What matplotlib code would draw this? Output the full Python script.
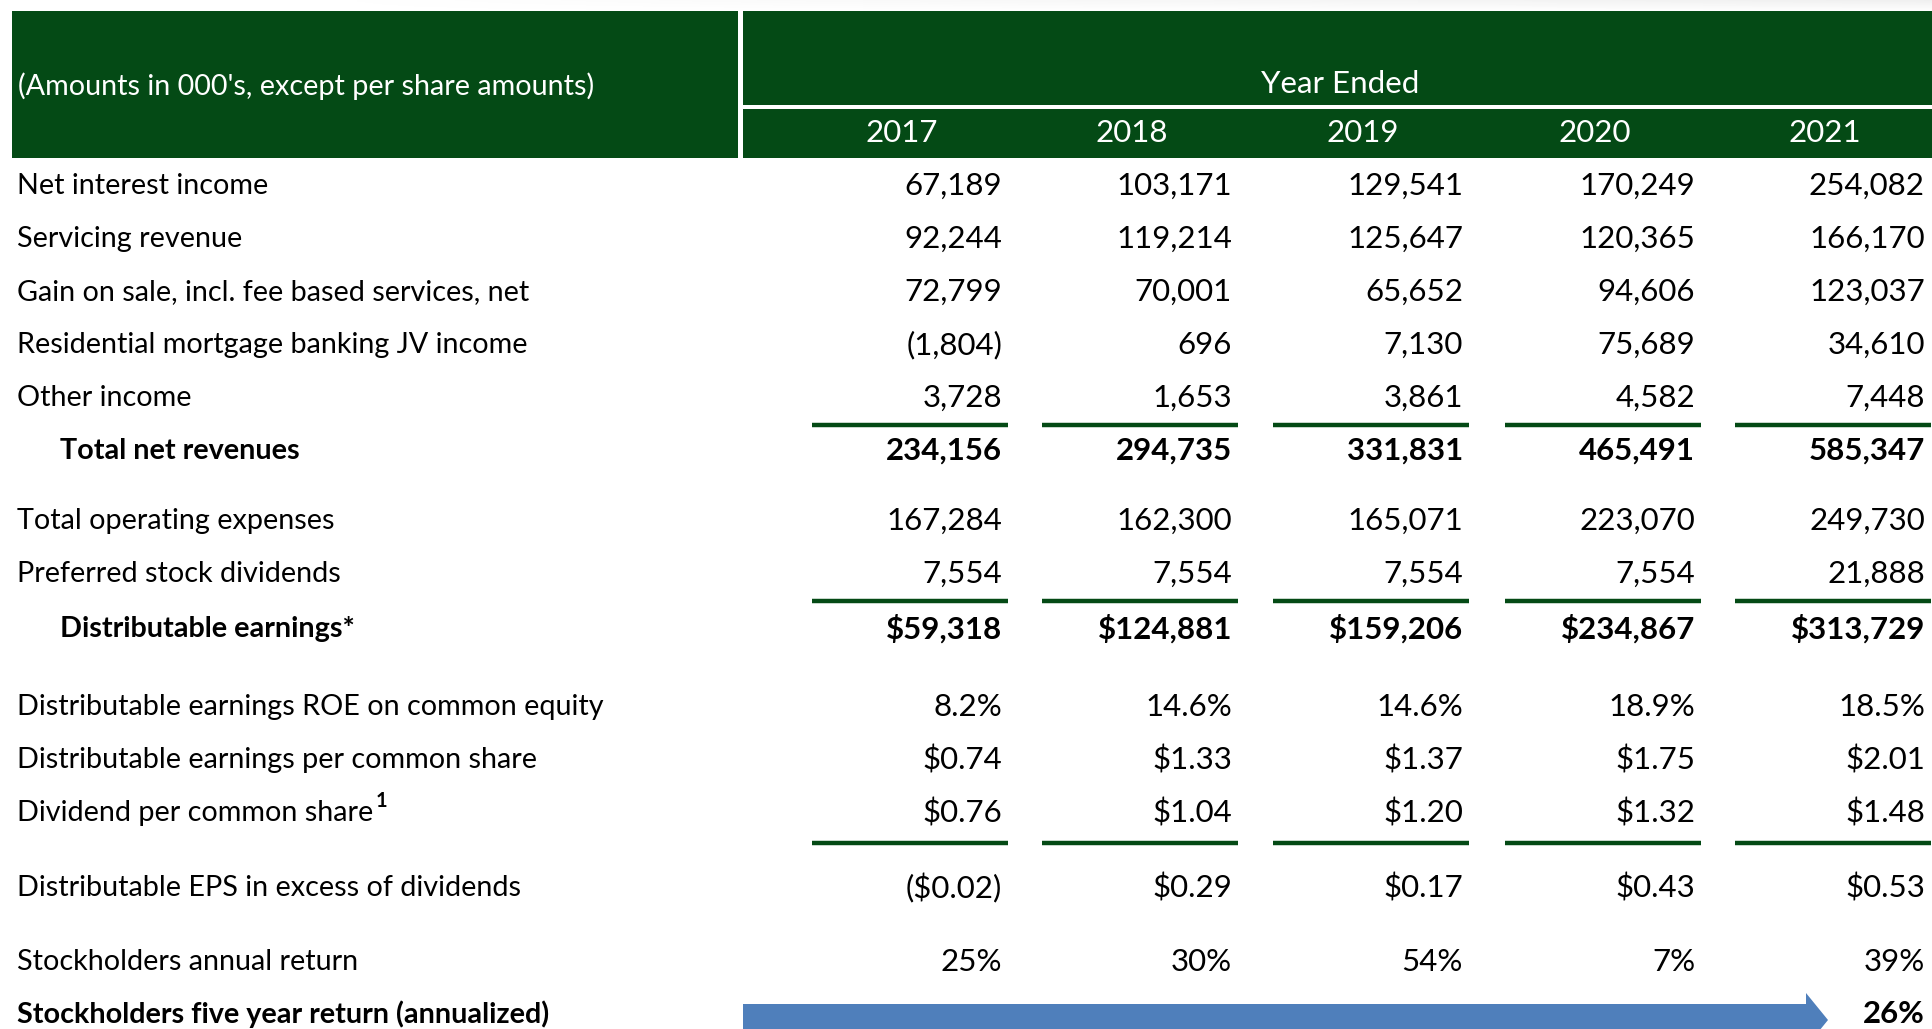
import numpy as np
import matplotlib
matplotlib.use("Agg")
import matplotlib.pyplot as plt
from matplotlib.patches import Rectangle, FancyArrow

# ----------------------------------------------------------------------------------------- #
#                                           Data                                            #
# ----------------------------------------------------------------------------------------- #

years = ['2017', '2018', '2019', '2020', '2021']

net_interest_income = [67189, 103171, 129541, 170249, 254082]
servicing_revenue = [92244, 119214, 125647, 120365, 166170]
gain_on_sale = [72799, 70001, 65652, 94606, 123037]
mortgage_jv_income = [-1804, 696, 7130, 75689, 34610]
other_income = [3728, 1653, 3861, 4582, 7448]
total_net_revenues = [234156, 294735, 331831, 465491, 585347]

total_operating_expenses = [167284, 162300, 165071, 223070, 249730]
preferred_dividends = [7554, 7554, 7554, 7554, 21888]
distributable_earnings = [59318, 124881, 159206, 234867, 313729]

roe_pct = [8.2, 14.6, 14.6, 18.9, 18.5]
de_per_share = [0.74, 1.33, 1.37, 1.75, 2.01]
dividend_per_share = [0.76, 1.04, 1.20, 1.32, 1.48]
eps_excess = [-0.02, 0.29, 0.17, 0.43, 0.53]

annual_return_pct = [25, 30, 54, 7, 39]
five_year_return_pct = 26

GREEN = '#044a15'
BLUE = '#4f7fbb'
FONT = ['Lato', 'DejaVu Sans']
FS = 20.7      # row labels
FS_NUM = 22.5  # numbers and header text

# ----------------------------------------------------------------------------------------- #
#                                        Formatters                                         #
# ----------------------------------------------------------------------------------------- #

def fmt_int(v):
    return f'({abs(v):,})' if v < 0 else f'{v:,}'


def fmt_dollar_int(v):
    return f'(${abs(v):,})' if v < 0 else f'${v:,}'


def fmt_pct1(v):
    return f'{v:.1f}%'


def fmt_dollar2(v):
    return f'(${abs(v):.2f})' if v < 0 else f'${v:.2f}'


def fmt_pct0(v):
    return f'{v:d}%'


# label, values, formatter, y, bold, indent
rows = [
    ('Net interest income', net_interest_income, fmt_int, 186, False, False),
    ('Servicing revenue', servicing_revenue, fmt_int, 239, False, False),
    ('Gain on sale, incl. fee based services, net', gain_on_sale, fmt_int, 292, False, False),
    ('Residential mortgage banking JV income', mortgage_jv_income, fmt_int, 345, False, False),
    ('Other income', other_income, fmt_int, 398, False, False),
    ('Total net revenues', total_net_revenues, fmt_int, 451, True, True),
    ('Total operating expenses', total_operating_expenses, fmt_int, 521, False, False),
    ('Preferred stock dividends', preferred_dividends, fmt_int, 574, False, False),
    ('Distributable earnings*', distributable_earnings, fmt_dollar_int, 629, True, True),
    ('Distributable earnings ROE on common equity', roe_pct, fmt_pct1, 707, False, False),
    ('Distributable earnings per common share', de_per_share, fmt_dollar2, 760, False, False),
    ('Dividend per common share', dividend_per_share, fmt_dollar2, 813, False, False),
    ('Distributable EPS in excess of dividends', eps_excess, fmt_dollar2, 888, False, False),
    ('Stockholders annual return', annual_return_pct, fmt_pct0, 962, False, False),
]

col_right = [1002, 1232, 1463, 1695, 1925]
rule_y = [425, 601, 843]

# ----------------------------------------------------------------------------------------- #
#                                          Drawing                                          #
# ----------------------------------------------------------------------------------------- #

fig = plt.figure(figsize=(19.32, 10.29), dpi=100)
ax = fig.add_axes([0, 0, 1, 1])
ax.set_xlim(0, 1932)
ax.set_ylim(1029, 0)
ax.axis('off')

# faint shadow strip along the top edge
shade = np.linspace(0, 1, 200)[None, :] * np.linspace(1, 0, 12)[:, None]
ax.imshow(shade, extent=(300, 1932, 12, 0), cmap='Greys', vmin=0, vmax=8,
          aspect='auto', zorder=0)

# header boxes
ax.add_patch(Rectangle((12, 11), 726, 147, color=GREEN, lw=0))
ax.add_patch(Rectangle((743, 11), 1189, 94, color=GREEN, lw=0))
ax.add_patch(Rectangle((743, 109), 1189, 49, color=GREEN, lw=0))

ax.text(18, 86, "(Amounts in 000's, except per share amounts)", color='white',
        fontsize=FS, family=FONT, va='center', ha='left')
ax.text(1340, 84, 'Year Ended', color='white', fontsize=FS_NUM, family=FONT,
        va='center', ha='center')
for yr, xr in zip(years, col_right):
    ax.text(xr - 100, 133, yr, color='white', fontsize=FS_NUM, family=FONT,
            va='center', ha='center')

# body rows
label_texts = {}
for label, vals, fmt, y, bold, indent in rows:
    weight = 'bold' if bold else 'normal'
    x0 = 60 if indent else 17
    label_texts[label] = ax.text(x0, y, label, fontsize=FS, family=FONT,
                                 weight=weight, va='center', ha='left')
    for v, xr in zip(vals, col_right):
        ax.text(xr, y, fmt(v), fontsize=FS_NUM, family=FONT, weight=weight,
                va='center', ha='right')

# superscript footnote marker after "Dividend per common share"
fig.canvas.draw()
bb = label_texts['Dividend per common share'].get_window_extent()
x_sup = ax.transData.inverted().transform((bb.x1, bb.y1))[0]
ax.text(x_sup + 2, 801, '1', fontsize=FS * 0.7, family=FONT, weight='bold',
        va='center', ha='left')

# green subtotal rules
for ry in rule_y:
    for xr in col_right:
        ax.plot([xr - 190, xr + 6], [ry, ry], color=GREEN, lw=3.2,
                solid_capstyle='butt')

# five year return row
ax.text(17, 1014, 'Stockholders five year return (annualized)', fontsize=FS,
        family=FONT, weight='bold', va='center', ha='left')
ax.add_patch(FancyArrow(743, 1020, 1085, 0, width=32, head_width=54,
                        head_length=22, length_includes_head=True,
                        color=BLUE, lw=0))
ax.text(col_right[-1], 1014, fmt_pct0(five_year_return_pct), fontsize=FS_NUM,
        family=FONT, weight='bold', va='center', ha='right')

fig.savefig('out.png', dpi=100)
